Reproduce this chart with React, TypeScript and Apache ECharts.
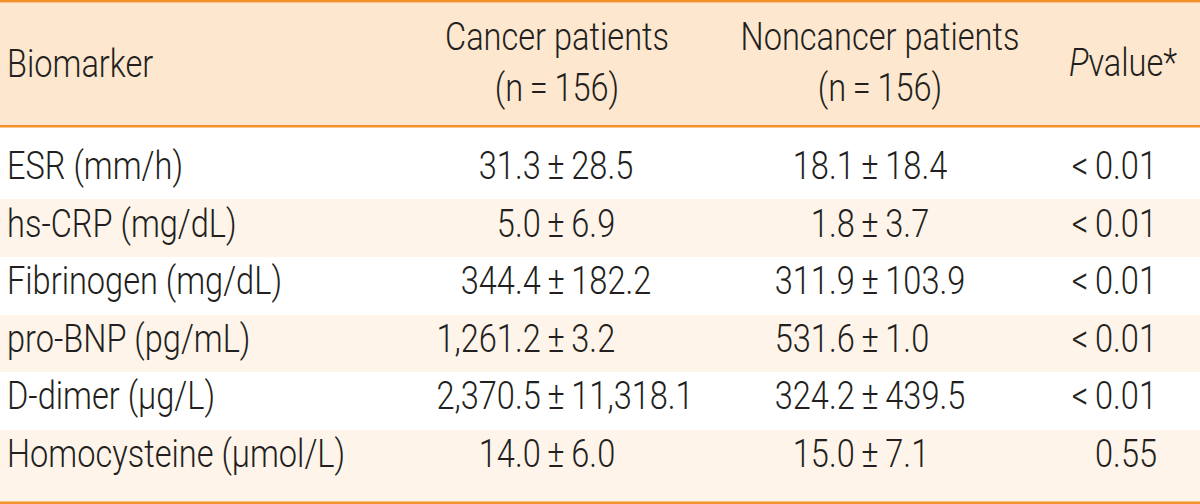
import React, { useEffect, useRef } from "react";
import * as echarts from "echarts";

const colHeaders = ["Biomarker", "Cancer patients", "Noncancer patients", "value*"];
const pLetter = "P";
const groupSizes = ["(n = 156)", "(n = 156)"];
const biomarkers = [
  "ESR (mm/h)",
  "hs-CRP (mg/dL)",
  "Fibrinogen (mg/dL)",
  "pro-BNP (pg/mL)",
  "D-dimer (µg/L)",
  "Homocysteine (µmol/L)",
];
const cancerMean = ["31.3", "5.0", "344.4", "1,261.2", "2,370.5", "14.0"];
const cancerSD = ["28.5", "6.9", "182.2", "3.2", "11,318.1", "6.0"];
const noncancerMean = ["18.1", "1.8", "311.9", "531.6", "324.2", "15.0"];
const noncancerSD = ["18.4", "3.7", "103.9", "1.0", "439.5", "7.1"];
const pValues = ["< 0.01", "< 0.01", "< 0.01", "< 0.01", "< 0.01", "0.55"];

const W = 1200;
const H = 504;
const FONT = 'Roboto, "Liberation Sans", sans-serif';
const FW = 300;
const FS = 38.5;
const ORANGE = "#F2922A";
const HEAD_BG = "#FDE7CF";
const STRIPE = "#FEF4EA";
const INK = "#231F20";
const THIN = "\u2009";

let ctx: CanvasRenderingContext2D | null = null;
function measure(t: string): number {
  if (!ctx) ctx = document.createElement("canvas").getContext("2d");
  if (!ctx) return t.length * FS * 0.45;
  ctx.font = `${FW} ${FS}px ${FONT}`;
  return ctx.measureText(t).width;
}

export default function App() {
  const ref = useRef<HTMLDivElement>(null);
  useEffect(() => {
    if (!ref.current) return;
    const chart = echarts.init(ref.current, null, { renderer: "svg" });

    // horizontal condensation so the wide system font resembles the condensed original
    const SX = Math.min(1, Math.max(0.7, 224 / measure("Cancer patients")));

    const headTop = 2.5;
    const headBottom = 125;
    const rowBounds = [127, 199, 257, 315, 372, 430, 502];
    const rowCenters = [166.5, 224, 281.5, 339, 396.5, 454];
    const colX = { name: 7, cancer: 556, noncancer: 870, p: 1157 };

    const els: any[] = [];
    els.push({ type: "rect", shape: { x: 0, y: headTop, width: W, height: headBottom - headTop }, style: { fill: HEAD_BG }, silent: true });
    biomarkers.forEach((_, i) => {
      if (i % 2 === 1) {
        els.push({
          type: "rect",
          shape: { x: 0, y: rowBounds[i], width: W, height: rowBounds[i + 1] - rowBounds[i] },
          style: { fill: STRIPE },
          silent: true,
        });
      }
    });
    els.push({ type: "rect", shape: { x: 0, y: 0, width: W, height: 2.5 }, style: { fill: ORANGE } });
    els.push({ type: "rect", shape: { x: 0, y: headBottom, width: W, height: 2.5 }, style: { fill: ORANGE } });
    els.push({ type: "rect", shape: { x: 0, y: 501.5, width: W, height: 2.5 }, style: { fill: ORANGE } });

    const txt = (text: string, x: number, y: number, align: string, extra: any = {}) => ({
      type: "text",
      x,
      y,
      scaleX: SX,
      style: {
        text,
        fill: INK,
        fontSize: FS,
        fontFamily: FONT,
        fontWeight: FW,
        align,
        verticalAlign: "middle",
        ...extra,
      },
    });

    els.push(txt(colHeaders[0], colX.name, 64, "left"));
    els.push(txt(colHeaders[1], 557, 37.5, "center"));
    els.push(txt(groupSizes[0].replace(/ /g, THIN), 557, 88, "center"));
    els.push(txt(colHeaders[2], 880, 37.5, "center"));
    els.push(txt(groupSizes[1].replace(/ /g, THIN), 880, 88, "center"));
    els.push({
      type: "text",
      x: 1123,
      y: 63,
      scaleX: SX,
      style: {
        text: `{i|${pLetter}}{n|${colHeaders[3]}}`,
        align: "center",
        verticalAlign: "middle",
        fill: INK,
        fontSize: FS,
        fontFamily: FONT,
        fontWeight: FW,
        rich: {
          i: { fontStyle: "italic", fontSize: FS, fontFamily: FONT, fontWeight: FW, fill: INK },
          n: { fontSize: FS, fontFamily: FONT, fontWeight: FW, fill: INK },
        },
      },
    });

    const pmW = measure("±");
    const aligned = (mean: string, sd: string, pmX: number, y: number) => {
      const x = pmX - SX * (measure(mean + THIN) + pmW / 2);
      return txt(`${mean}${THIN}±${THIN}${sd}`, x, y, "left");
    };

    biomarkers.forEach((b, i) => {
      const y = rowCenters[i];
      els.push(txt(b, colX.name, y, "left"));
      els.push(aligned(cancerMean[i], cancerSD[i], colX.cancer, y));
      els.push(aligned(noncancerMean[i], noncancerSD[i], colX.noncancer, y));
      els.push(txt(pValues[i].replace(/ /g, THIN), colX.p, y, "right"));
    });

    chart.setOption({
      animation: false,
      backgroundColor: "#ffffff",
      graphic: { elements: els },
    });
    return () => chart.dispose();
  }, []);
  return (
    <div
      ref={ref}
      style={{ position: "fixed", left: 0, top: 0, width: W, height: H }}
    />
  );
}
